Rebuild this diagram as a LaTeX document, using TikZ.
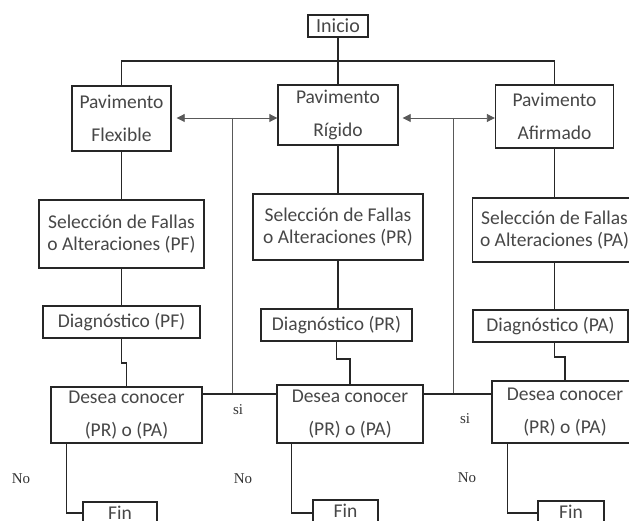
\documentclass[tikz,border=0pt]{standalone}
\usepackage{fontspec}
\setmainfont{Carlito}
\newfontfamily\lblfont{Liberation Serif}
\usetikzlibrary{arrows.meta}
\begin{document}
\begin{tikzpicture}[x=1pt,y=-1pt,
  box/.style={draw=black!85, line width=1.4pt, inner sep=0pt, align=center, text=black!72, font=\fontsize{19.5}{22}\selectfont},
  tall/.style={font=\fontsize{19.5}{32.5}\selectfont},
  conn/.style={draw=black!85, line width=1.3pt},
  thin/.style={draw=black!65, line width=0.9pt},
  dblarr/.style={thin, {Triangle[length=8pt,width=8pt]}-{Triangle[length=8pt,width=8pt]}},
  lbl/.style={font=\lblfont\fontsize{15}{15}\selectfont, text=black!80, inner sep=0pt},
]
\clip (0,0) rectangle (629,521);
\fill[white] (0,0) rectangle (629,521);

% top
\node[box, minimum width=60, minimum height=22, font=\fontsize{20}{22}\selectfont] (ini) at (338,26) {Inicio};
\node[box, tall, minimum width=99, minimum height=65] (pf) at (121.5,118.5) {Pavimento\\Flexible};
\node[box, tall, minimum width=120, minimum height=60] (pr) at (338,115) {Pavimento\\Rígido};
\node[box, tall, minimum width=118, minimum height=63] (pa) at (554.5,116.5) {Pavimento\\Afirmado};

% seleccion
\node[box, minimum width=165, minimum height=68] (sf) at (121.5,234) {Selección de Fallas\\o Alteraciones (PF)};
\node[box, minimum width=170, minimum height=66] (sr) at (338,227) {Selección de Fallas\\o Alteraciones (PR)};
\node[box, minimum width=164, minimum height=64] (sa) at (554.5,230) {Selección de Fallas\\o Alteraciones (PA)};

% diagnostico
\node[box, minimum width=157, minimum height=32] (df) at (121.5,322) {Diagnóstico (PF)};
\node[box, minimum width=151, minimum height=32] (dr) at (336.5,325) {Diagnóstico (PR)};
\node[box, minimum width=155, minimum height=32] (da) at (550.5,326) {Diagnóstico (PA)};

% desea
\node[box, tall, minimum width=151, minimum height=56] (ef) at (126.5,415) {Desea conocer\\(PR) o (PA)};
\node[box, tall, minimum width=146, minimum height=58] (er) at (350,414) {Desea conocer\\(PR) o (PA)};
\node[box, tall, minimum width=146, minimum height=62] (ea) at (565,412) {Desea conocer\\(PR) o (PA)};

% fin
\node[box, minimum width=74, minimum height=22] (ff) at (120,513) {Fin};
\node[box, minimum width=65, minimum height=22] (fr) at (345.5,511) {Fin};
\node[box, minimum width=66, minimum height=22] (fa) at (571,512) {Fin};

% labels
\node[lbl] (no1) at (21,479) {No};
\node[lbl] (no2) at (243,479) {No};
\node[lbl] (no3) at (467,478) {No};
\node[lbl] (si1) at (238,410) {si};
\node[lbl] (si2) at (465,419) {si};

% coordinates
\coordinate (tl) at (0,61);
\coordinate (a1) at (232,118);
\coordinate (a2) at (453,118);
\coordinate (s1) at (232,394);
\coordinate (s2) at (453,394);
\coordinate (j1) at (0,363);
\coordinate (j2) at (0,359);
\coordinate (j3) at (0,357);
\coordinate (b1) at (0,513);

% top tree
\draw[conn, line width=1.8pt] (pf.north) -- (pf.north |- tl) -- (pa.north |- tl) -- (pa.north);
\draw[conn, line width=1.6pt] (ini.south) -- (pr.north);

% arrows between pavimento boxes
\draw[dblarr, shorten <=5pt] (pf.east |- a1) -- (pr.west |- a1);
\draw[dblarr, shorten <=4pt] (pr.east |- a2) -- (pa.west |- a2);
\draw[thin] (a1) -- (s1);
\draw[thin] (a2) -- (s2);

% vertical chains
\draw[conn] (pf.south) -- (sf.north);
\draw[conn] (pr.south) -- (sr.north);
\draw[conn] (pa.south) -- (sa.north);
\draw[conn] (sf.south) -- (sf.south |- df.north);
\draw[conn] (sr.south) -- (sr.south |- dr.north);
\draw[conn] (sa.south) -- (sa.south |- da.north);
\draw[conn] (df.south) -- (df.south |- j1) -- (ef.north |- j1) -- (ef.north);
\draw[conn] (dr.south) -- (dr.south |- j2) -- (er.north |- j2) -- (er.north);
\draw[conn] (sa.south |- da.south) -- (sa.south |- j3) -- (ea.north |- j3) -- (ea.north);

% si lines
\draw[conn] (ef.east |- s1) -- (er.west |- s1);
\draw[conn] (er.east |- s2) -- (ea.west |- s2);

% to fin
\draw[conn] ([xshift=16pt]ef.south west) |- (ff.west |- b1);
\draw[conn] ([xshift=15pt]er.south west) |- (fr.west |- b1);
\draw[conn] ([xshift=16pt]ea.south west) |- (fa.west |- b1);
\end{tikzpicture}
\end{document}
